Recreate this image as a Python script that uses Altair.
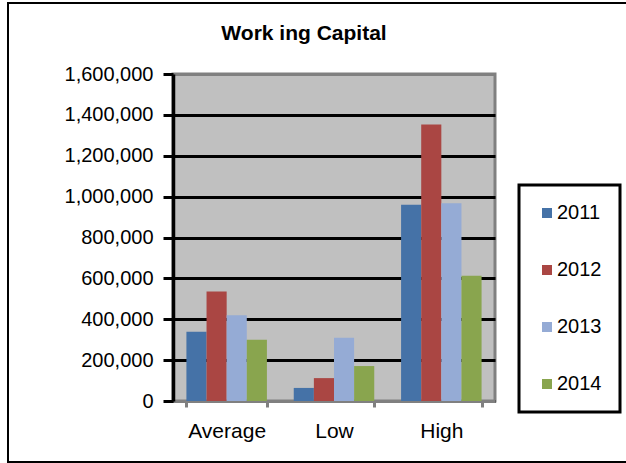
import altair as alt
import pandas as pd

categories = ["Average", "Low", "High"]
years = ["2011", "2012", "2013", "2014"]
v2011 = [339000, 64000, 960000]
v2012 = [536000, 112000, 1353000]
v2013 = [419000, 310000, 968000]
v2014 = [300000, 171000, 613000]
colors = ["#4572A7", "#AA4643", "#95ABD5", "#89A54E"]
y_ticks = [0, 200000, 400000, 600000, 800000, 1000000, 1200000, 1400000, 1600000]

series = {"2011": v2011, "2012": v2012, "2013": v2013, "2014": v2014}
rows = []
for y in years:
    for c, v in zip(categories, series[y]):
        rows.append({"category": c, "year": y, "value": v})
df = pd.DataFrame(rows)

FONT = "Liberation Sans"

bars = alt.Chart(df).mark_bar().encode(
    x=alt.X(
        "category:N",
        sort=categories,
        title=None,
        scale=alt.Scale(paddingInner=0.25, paddingOuter=0.125),
        axis=alt.Axis(
            labelAngle=0,
            labelFontSize=21,
            labelFont=FONT,
            labelColor="black",
            labelPadding=13,
            domainColor="#808080",
            domainWidth=3,
            tickColor="#808080",
            tickWidth=3,
            tickSize=6,
            tickBand="extent",
            grid=False,
        ),
    ),
    xOffset=alt.XOffset("year:N", sort=years, scale=alt.Scale(paddingInner=0, paddingOuter=0)),
    y=alt.Y(
        "value:Q",
        title=None,
        scale=alt.Scale(domain=[0, 1600000], nice=False),
        axis=alt.Axis(
            values=y_ticks,
            format=",d",
            labelFontSize=20,
            labelFont=FONT,
            labelColor="black",
            labelPadding=10,
            domainColor="black",
            domainWidth=3.5,
            tickColor="black",
            tickWidth=3,
            tickSize=10,
            grid=True,
            gridColor={"condition": {"test": "datum.value >= 1600000", "value": "#808080"}, "value": "black"},
            gridWidth=3,
        ),
    ),
    color=alt.Color(
        "year:N",
        sort=years,
        scale=alt.Scale(domain=years, range=colors),
        legend=alt.Legend(
            title=None,
            orient="none",
            legendX=346,
            legendY=111,
            strokeColor="black",
            fillColor="white",
            padding=18,
            symbolType="square",
            symbolSize=100,
            symbolStrokeWidth=0,
            labelFontSize=20,
            labelFont=FONT,
            labelColor="black",
            labelOffset=0,
            rowPadding=37,
        ),
    ),
)

border = alt.Chart(pd.DataFrame({"a": [0]})).mark_rect(
    filled=False, stroke="black", strokeWidth=2
).encode(
    x=alt.value(-165), x2=alt.value(500), y=alt.value(-71), y2=alt.value(388)
)

chart = alt.layer(bars, border).properties(
    width=322,
    height=327,
    title=alt.TitleParams(
        "Work ing Capital",
        fontSize=21,
        font=FONT,
        fontWeight="bold",
        color="black",
        anchor="middle",
        frame="group",
        dx=-30,
        offset=-42,
    ),
    background="white",
    autosize=alt.AutoSizeParams(type="none"),
    padding={"left": 173, "top": 74, "right": 131, "bottom": 62},
).configure_view(
    fill="#C0C0C0", stroke="#808080", strokeWidth=3
).configure_legend(
    strokeWidth=3
)

chart.save("out.html", embed_options={"renderer": "svg", "actions": False})
